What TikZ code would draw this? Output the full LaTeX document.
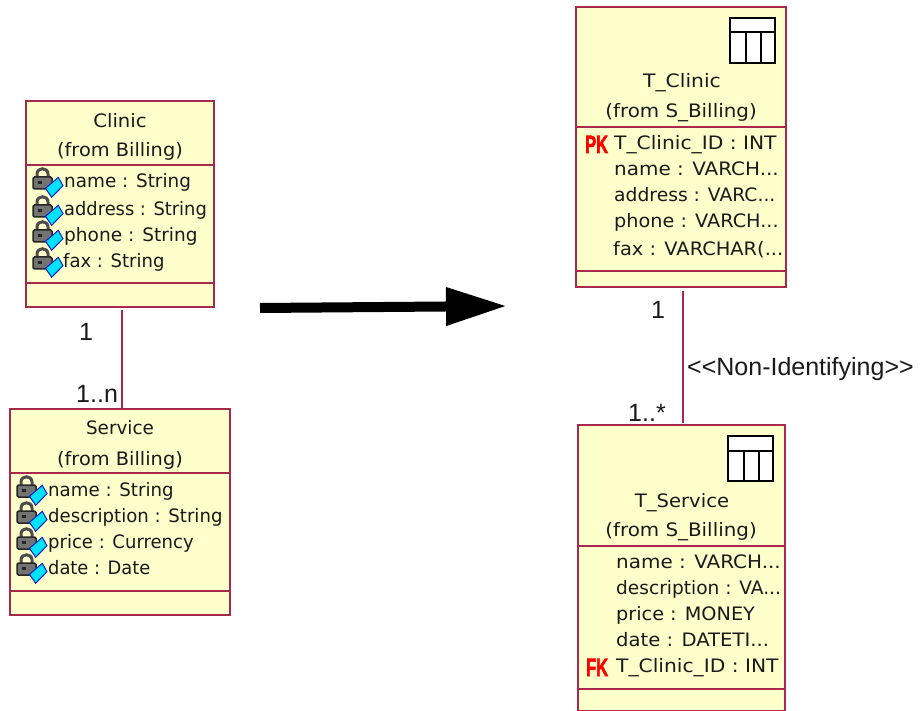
\documentclass[tikz,border=0pt]{standalone}
\usepackage{fontspec}
\setmainfont{DejaVu Sans}
\newfontfamily\labelfont{Liberation Sans}
\newfontfamily\keyfont[FakeBold=2.5]{Liberation Sans}
\usetikzlibrary{arrows.meta}
\definecolor{umlline}{HTML}{A82850}
\definecolor{umlfill}{HTML}{FFFFCC}
\definecolor{keyred}{HTML}{FF0000}
\definecolor{inktext}{HTML}{1A1A1A}
\definecolor{diamondfill}{HTML}{00E0FF}
\definecolor{diamondedge}{HTML}{1020C0}
\tikzset{
  umlbox/.style={draw=umlline,fill=umlfill,line width=2.2pt,rectangle,inner sep=0pt,outer sep=0pt,anchor=north west},
  divider/.style={draw=umlline,line width=2.2pt},
  assoc/.style={draw=umlline,line width=2.2pt},
  rowtext/.style={font=\fontsize{18.5}{20}\selectfont,text=inktext,inner sep=0pt,anchor=base west,xscale=#1*0.946,transform shape},
  rowtext/.default=1.05,
  titletext/.style={font=\fontsize{18.5}{20}\selectfont,text=inktext,inner sep=0pt,anchor=base,xscale=#1*0.946,transform shape},
  titletext/.default=1.11,
  biglabel/.style={font=\labelfont\fontsize{25}{28}\selectfont,text=inktext,inner sep=0pt,anchor=base west},
  keylabel/.style={font=\keyfont\bfseries\fontsize{25}{26}\selectfont,text=keyred,inner sep=0pt,anchor=base west,xscale=.66,transform shape},
  lockicon/.pic={
    \draw[line width=3pt,draw=black!70] (-5,0) -- (-5,-5) .. controls (-5,-12) and (6,-12) .. (6,-5) -- (6,0);
    \draw[fill=black!55,draw=black!85,line width=1.5pt,rounded corners=1.5pt] (-9,-2) rectangle (10,10);
    \fill[black!85] (-4,2) rectangle (0,5);
    \draw[fill=diamondfill,draw=diamondedge,line width=1pt] (16.3,-1.7) -- (21,6.7) -- (9.7,18.3) -- (3.5,9.3) -- cycle;
  },
  tableicon/.pic={
    \draw[fill=white,draw=black,line width=2pt] (0,0) rectangle (45,45);
    \draw[draw=black,line width=2pt] (0,14.5) -- (45,14.5) (16,14.5) -- (16,45) (31,14.5) -- (31,45);
  }
}
\begin{document}
\begin{tikzpicture}[x=1pt,y=-1pt]
\useasboundingbox (0,0) rectangle (923,711);
% boxes
\node[umlbox,minimum width=188pt,minimum height=206pt] (clinic) at (26,101) {};
\node[umlbox,minimum width=220pt,minimum height=206pt] (service) at (10,409) {};
\node[umlbox,minimum width=210pt,minimum height=280pt] (tclinic) at (576,7) {};
\node[umlbox,minimum width=207pt,minimum height=286pt] (tservice) at (578,425) {};
% dividers
\draw[divider] (clinic.west |- 0,165) -- (clinic.east |- 0,165);
\draw[divider] (clinic.west |- 0,283) -- (clinic.east |- 0,283);
\draw[divider] (service.west |- 0,473) -- (service.east |- 0,473);
\draw[divider] (service.west |- 0,591) -- (service.east |- 0,591);
\draw[divider] (tclinic.west |- 0,127) -- (tclinic.east |- 0,127);
\draw[divider] (tclinic.west |- 0,271) -- (tclinic.east |- 0,271);
\draw[divider] (tservice.west |- 0,546) -- (tservice.east |- 0,546);
\draw[divider] (tservice.west |- 0,689) -- (tservice.east |- 0,689);
% connectors
\draw[assoc] ([xshift=2pt,yshift=-3pt]clinic.south) -- ([xshift=2pt,yshift=1pt]service.north);
\draw[assoc] ([xshift=2pt,yshift=-4pt]tclinic.south) -- ([xshift=1.5pt,yshift=2pt]tservice.north);
% big arrow
\coordinate (arrowstart) at (260,308);
\coordinate (arrowend) at (507,306);
\draw[line width=10pt,-{Triangle[length=61pt,width=36pt]}] (arrowstart) -- (arrowend);
% icons
\pic at (42,179) {lockicon};
\pic at (42,207) {lockicon};
\pic at (42,232) {lockicon};
\pic at (42,259) {lockicon};
\pic at (26,487) {lockicon};
\pic at (26,513) {lockicon};
\pic at (26,539) {lockicon};
\pic at (26,565) {lockicon};
\pic at (730,18) {tableicon};
\pic at (728,436) {tableicon};
% Clinic
\node[titletext=1.12] (c0) at (120,128) {Clinic};
\node[titletext=1.107] (c1) at (120,157) {(from Billing)};
\node[rowtext=1.05] (c2) at (64,188) {name : String};
\node[rowtext=1.02] (c3) at (64,216) {address : String};
\node[rowtext=1.06] (c4) at (64,242) {phone : String};
\node[rowtext=1.03] (c5) at (63,268) {fax : String};
% Service
\node[titletext=1.05] (s0) at (120,434) {Service};
\node[titletext=1.107] (s1) at (120,465) {(from Billing)};
\node[rowtext=1.04] (s2) at (48,496) {name : String};
\node[rowtext=1.035] (s3) at (48,522) {description : String};
\node[rowtext=1.03] (s4) at (48,548) {price : Currency};
\node[rowtext=1.02] (s5) at (48,574) {date : Date};
% T_Clinic
\node[titletext=1.16] (t0) at (682,88) {T\_Clinic};
\node[titletext=1.135] (t1) at (681,118) {(from S\_Billing)};
\node[keylabel] (t2) at (585,153) {PK};
\node[rowtext=1.157] (t3) at (614,150) {T\_Clinic\_ID : INT};
\node[rowtext=1.14] (t4) at (614,176) {name : VARCH...};
\node[rowtext=1.07] (t5) at (614,202) {address : VARC...};
\node[rowtext=1.1] (t6) at (614,228) {phone : VARCH...};
\node[rowtext=1.11] (t7) at (613,256) {fax : VARCHAR(...};
% T_Service
\node[titletext=1.12] (u0) at (682,507) {T\_Service};
\node[titletext=1.135] (u1) at (681,536) {(from S\_Billing)};
\node[rowtext=1.14] (u2) at (616,568) {name : VARCH...};
\node[rowtext=1.06] (u3) at (616,594) {description : VA...};
\node[rowtext=1.1] (u4) at (616,620) {price : MONEY};
\node[rowtext=1.12] (u5) at (616,646) {date : DATETI...};
\node[rowtext=1.157] (u6) at (616,672) {T\_Clinic\_ID : INT};
\node[keylabel] (u7) at (586,676) {FK};
% connector labels
\node[biglabel] (l1) at (79,340) {1};
\node[biglabel] (l2) at (76,402) {1..n};
\node[biglabel] (l3) at (651,318) {1};
\node[biglabel] (l4) at (628,421) {1..*};
\node[biglabel] (l5) at (687,375) {<{}<Non-Identifying>{}>};
\end{tikzpicture}
\end{document}
